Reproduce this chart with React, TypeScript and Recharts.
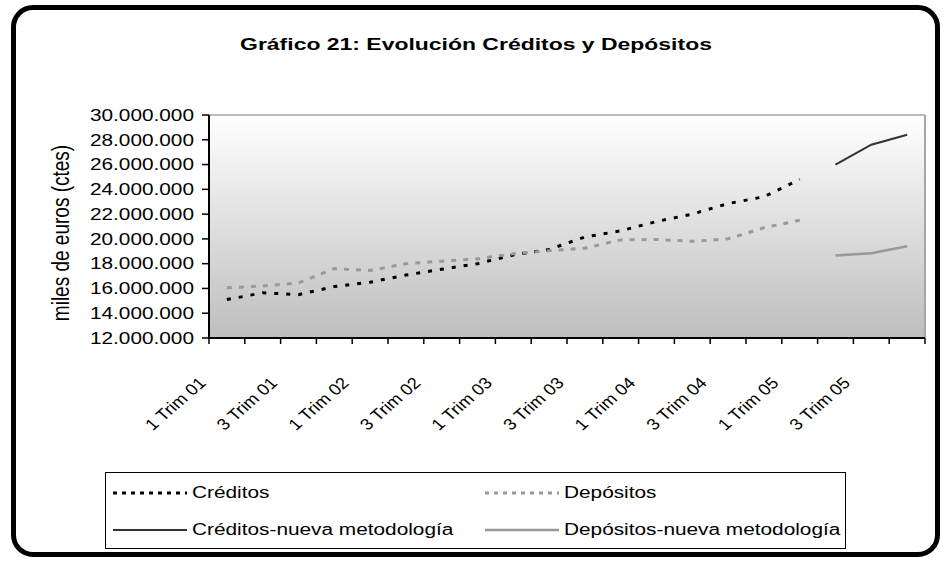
import React from 'react';
import { ComposedChart, Line, XAxis, YAxis, CartesianGrid, ReferenceLine } from 'recharts';

// quarters 2001-2005, values in miles de euros (constantes)
const quarters = [
  '1 Trim 01', '2 Trim 01', '3 Trim 01', '4 Trim 01',
  '1 Trim 02', '2 Trim 02', '3 Trim 02', '4 Trim 02',
  '1 Trim 03', '2 Trim 03', '3 Trim 03', '4 Trim 03',
  '1 Trim 04', '2 Trim 04', '3 Trim 04', '4 Trim 04',
  '1 Trim 05', '2 Trim 05', '3 Trim 05', '4 Trim 05',
];

const creditos = [
  15100000, 15650000, 15500000, 16150000, 16500000, 17080000, 17550000, 18000000,
  18700000, 19150000, 20150000, 20650000, 21400000, 22000000, 22850000, 23400000,
  24800000, null, null, null,
];

const depositos = [
  16050000, 16200000, 16450000, 17600000, 17450000, 18000000, 18200000, 18380000,
  18800000, 19050000, 19250000, 19920000, 19950000, 19800000, 20000000, 20900000,
  21500000, null, null, null,
];

const creditosNueva = [
  null, null, null, null, null, null, null, null, null, null,
  null, null, null, null, null, null, null, 26000000, 27600000, 28400000,
];

const depositosNueva = [
  null, null, null, null, null, null, null, null, null, null,
  null, null, null, null, null, null, null, 18650000, 18850000, 19400000,
];

const yTicks = [12000000, 14000000, 16000000, 18000000, 20000000, 22000000, 24000000, 26000000, 28000000, 30000000];

const seriesNames = ['Créditos', 'Depósitos', 'Créditos-nueva metodología', 'Depósitos-nueva metodología'];

// each quarter sits in the middle of its slot; ticks at slot edges and label positions
const data = quarters.map((q, i) => ({
  q,
  pos: i + 0.5,
  creditos: creditos[i],
  depositos: depositos[i],
  creditosNueva: creditosNueva[i],
  depositosNueva: depositosNueva[i],
}));
const xTicks = quarters.flatMap((_, i) => [i, i + 0.5]).concat(quarters.length);

const FONT = '"Liberation Sans", Arial, sans-serif';
const STRETCH = 1.3;

const fmt = (v: number) => String(v).replace(/\B(?=(\d{3})+(?!\d))/g, '.');

const YTick = (props: any) => {
  const { x, y, payload } = props;
  return (
    <g transform={`translate(${x},${y})`}>
      <text transform={`scale(${STRETCH},1)`} textAnchor="end" dy="0.36em" fontSize={16} fontFamily={FONT} fill="#000">
        {fmt(payload.value)}
      </text>
    </g>
  );
};

// slot edges get a tick mark, every second quarter gets a slanted label
const XTick = (props: any) => {
  const { x, y, payload } = props;
  const v = payload.value as number;
  if (Number.isInteger(v)) {
    return <line x1={x} y1={y} x2={x} y2={y + 6} stroke="#000" strokeWidth={1.5} />;
  }
  const idx = v - 0.5;
  if (idx % 2 !== 0) return null;
  return (
    <g transform={`translate(${x - 20},${y + 46})`}>
      <text transform="scale(1.15,1) rotate(-45)" textAnchor="end" fontSize={16} fontFamily={FONT} fill="#000">
        {quarters[idx]}
      </text>
    </g>
  );
};

const LegendSample = ({ color, dash, width }: { color: string; dash?: string; width: number }) => (
  <svg width={74} height={10} style={{ display: 'block' }}>
    <line x1={0} y1={5} x2={74} y2={5} stroke={color} strokeWidth={width} strokeDasharray={dash} />
  </svg>
);

const legendItems = [
  { name: seriesNames[0], color: '#000', dash: '4 5', width: 3, left: 7, top: 20 },
  { name: seriesNames[1], color: '#999', dash: '4 5', width: 3, left: 379, top: 20 },
  { name: seriesNames[2], color: '#333', dash: undefined, width: 2, left: 7, top: 57 },
  { name: seriesNames[3], color: '#999', dash: undefined, width: 2.5, left: 379, top: 57 },
];

export default function App() {
  return (
    <div style={{ position: 'absolute', left: 0, top: 0, width: 945, height: 564, background: '#fff', fontFamily: FONT, overflow: 'hidden' }}>
      <div
        style={{
          position: 'absolute', left: 11, top: 5, width: 929, height: 552,
          border: '5px solid #000', borderRadius: 22, boxSizing: 'border-box',
        }}
      />
      <div
        style={{
          position: 'absolute', left: 176, top: 35, width: 600, height: 20, lineHeight: '20px',
          textAlign: 'center', fontWeight: 'bold', fontSize: 17, transform: `scaleX(1.35)`,
        }}
      >
        Gráfico 21: Evolución Créditos y Depósitos
      </div>
      <div
        style={{
          position: 'absolute', left: 61 - 150, top: 233 - 12, width: 300, height: 24, lineHeight: '24px',
          textAlign: 'center', fontSize: 19, transform: 'scaleX(1.3) rotate(-90deg)',
        }}
      >
        miles de euros (ctes)
      </div>

      <ComposedChart width={945} height={564} data={data} margin={{ top: 115, right: 20, left: 0, bottom: 225 }} style={{ position: 'absolute', left: 0, top: 0 }}>
        <defs>
          <linearGradient id="plotBg" x1="0" y1="0" x2="0" y2="1">
            <stop offset="0%" stopColor="#ffffff" />
            <stop offset="100%" stopColor="#bebebe" />
          </linearGradient>
        </defs>
        <CartesianGrid horizontal={false} vertical={false} fill="url(#plotBg)" />
        <XAxis
          type="number"
          dataKey="pos"
          domain={[0, quarters.length]}
          allowDataOverflow
          allowDecimals
          ticks={xTicks}
          interval={0}
          height={1}
          tickSize={0}
          tickMargin={0}
          tickLine={false}
          axisLine={{ stroke: '#000', strokeWidth: 2 }}
          tick={<XTick />}
        />
        <YAxis
          width={209}
          domain={[12000000, 30000000]}
          ticks={yTicks}
          interval={0}
          tickSize={7}
          tickMargin={8}
          axisLine={{ stroke: '#000', strokeWidth: 2 }}
          tickLine={{ stroke: '#000', strokeWidth: 1.5 }}
          tick={<YTick />}
        />
        <ReferenceLine y={30000000} stroke="#a6a6a6" strokeWidth={1.5} />
        <ReferenceLine x={quarters.length} stroke="#a6a6a6" strokeWidth={2} />
        <Line dataKey="creditos" name={seriesNames[0]} stroke="#000" strokeWidth={3} strokeDasharray="4 8" dot={false} isAnimationActive={false} />
        <Line dataKey="depositos" name={seriesNames[1]} stroke="#999" strokeWidth={3} strokeDasharray="5 7" dot={false} isAnimationActive={false} />
        <Line dataKey="creditosNueva" name={seriesNames[2]} stroke="#333" strokeWidth={2} dot={false} isAnimationActive={false} />
        <Line dataKey="depositosNueva" name={seriesNames[3]} stroke="#999" strokeWidth={2.5} dot={false} isAnimationActive={false} />
      </ComposedChart>

      <div
        style={{
          position: 'absolute', left: 105, top: 472, width: 741, height: 77,
          border: '1.5px solid #000', boxSizing: 'border-box', background: '#fff',
        }}
      >
        {legendItems.map((it) => (
          <div key={it.name} style={{ position: 'absolute', left: it.left, top: it.top - 10, height: 20, display: 'flex', alignItems: 'center' }}>
            <LegendSample color={it.color} dash={it.dash} width={it.width} />
            <span
              style={{
                marginLeft: 5, fontSize: 16, lineHeight: '20px', whiteSpace: 'nowrap',
                display: 'inline-block', transform: `scaleX(${STRETCH})`, transformOrigin: 'left center',
              }}
            >
              {it.name}
            </span>
          </div>
        ))}
      </div>
    </div>
  );
}
